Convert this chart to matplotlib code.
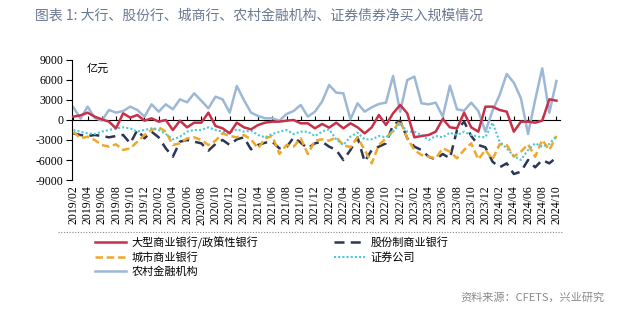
import numpy as np
import matplotlib
matplotlib.use('Agg')
import matplotlib.pyplot as plt
from matplotlib.lines import Line2D

plt.rcParams['font.family'] = ['Noto Sans CJK SC', 'DejaVu Sans']

# monthly, 2019/02 - 2024/10
months = [f'{y}/{m:02d}' for y in range(2019, 2025) for m in range(1, 13)]
months = months[1:months.index('2024/10') + 1]

big_banks = [500, 700, 1100, 500, 100, -250, -1250, 1000, 350, 750, -100, 250, -250, 0,
             -1500, -100, -1100, -400, -400, 1100, -900, -1250, -2000, -400, -1100, -1400,
             -750, -400, -250, -250, -100, 0, -500, -500, -1250, -600, -1150, -400, -1250,
             -500, -1100, -2000, -1100, 750, -750, 1000, 2250, 1000, -2600, -2400, -2250,
             -1750, 150, -1100, -1250, 1100, -1100, -1750, 2000, 2000, 1500, 1250, -1750,
             -250, -250, -400, -100, 3100, 2900]
joint_stock = [-2000, -2250, -2400, -2250, -2400, -2600, -2400, -2250, -3500, -1500, -2750,
               -1750, -2600, -4250, -5500, -3250, -3000, -3250, -3500, -4600, -3600, -3000,
               -3750, -2900, -2600, -4400, -3750, -3400, -3250, -4250, -4100, -2600, -3400,
               -4250, -3500, -3250, -4000, -4500, -6000, -4500, -2600, -6250, -4500, -4000,
               -3500, -750, -100, -2750, -4000, -4500, -5500, -5900, -5100, -5750, -1500,
               -250, -2400, -3750, -4100, -6250, -7100, -6500, -8100, -7750, -6000, -7100,
               -6000, -6500, -5600]
city_banks = [-1750, -2750, -2500, -3000, -3750, -4000, -3650, -4500, -4250, -3250, -2250,
              -1500, -1100, -1750, -3750, -3500, -2750, -2600, -3000, -3750, -3100, -2000,
              -2400, -2600, -2250, -2900, -4250, -2750, -2400, -5100, -3750, -4000, -2750,
              -5100, -3100, -2900, -3100, -2600, -3750, -4100, -2600, -4500, -6500, -3750,
              -2750, -1600, -100, -2750, -4500, -5250, -5500, -5750, -4250, -4750, -5750,
              -4500, -3500, -5900, -4500, -5900, -3650, -3750, -5500, -4750, -3650, -5500,
              -3000, -4500, -2400]
securities = [-1500, -1750, -2000, -2100, -1750, -1500, -1250, -1100, -1250, -1750, -1500,
              -1250, -1500, -2100, -2900, -2500, -1750, -1500, -1500, -1100, -1500, -1750,
              -1900, -1400, -1750, -1600, -2250, -2600, -2100, -1750, -1500, -2100, -1750,
              -1750, -2400, -1750, -1400, -2900, -3750, -2500, -1900, -2900, -2900, -2400,
              -2600, -1750, -500, -1750, -1750, -2250, -3000, -2400, -2600, -1900, -2250,
              -1750, -2250, -2500, -2600, -400, -3250, -4250, -5400, -6000, -4500, -3500,
              -4000, -3600, -2400]
rural = [1900, 200, 2000, 300, -100, 1500, 1100, 1350, 2000, 1500, 500, 2350, 1250, 2350,
         1600, 3100, 2650, 4000, 2900, 1750, 3500, 3100, 1100, 5100, 3000, 1100, 600, 250,
         250, -100, 900, 1350, 2250, 500, 1250, 2750, 5250, 4100, 4000, 100, 2500, 1250,
         1900, 2400, 2600, 6600, 1250, 6000, 6500, 2500, 2350, 2600, 500, 5150, 1600, 1400,
         2600, 1350, -1750, 1400, 3750, 6900, 5600, 3250, -2100, 3000, 7750, 1100, 5850]

labels = ['大型商业银行/政策性银行', '股份制商业银行', '城市商业银行', '证券公司', '农村金融机构']
colors = ['#c8304a', '#2b3656', '#f0a82a', '#4cc8d6', '#9cb8d6']

fig = plt.figure(figsize=(6.4, 3.23), dpi=100)
ax = fig.add_axes([0.1125, 0.4427, 0.7625, 0.3716])
x = np.arange(len(months))

ax.plot(x, rural, color=colors[4], lw=1.8, zorder=2)
ax.plot(x, big_banks, color=colors[0], lw=1.8, zorder=4)
ax.plot(x, joint_stock, color=colors[1], lw=1.8, dashes=(4, 2.5), zorder=3)
ax.plot(x, city_banks, color=colors[2], lw=1.8, dashes=(3, 1.5), zorder=3)
ax.plot(x, securities, color=colors[3], lw=1.5, dashes=(1, 1), zorder=3)

ax.set_ylim(-9000, 9000)
ax.set_xlim(-0.2, 68.5)
ax.set_yticks(range(-9000, 9001, 3000))
ax.set_yticklabels([str(v) for v in range(-9000, 9001, 3000)],
                   family='Liberation Serif', fontsize=8.5)
ax.tick_params(axis='y', direction='out', length=4, width=0.8, pad=2)

ax.set_xticks(x[::2])
ax.set_xticklabels(months[::2], rotation=90, family='Liberation Serif', fontsize=8.5)
ax.tick_params(axis='x', length=0, pad=4)

for s in ['top', 'right', 'bottom']:
    ax.spines[s].set_visible(False)
ax.spines['left'].set_linewidth(0.8)

# zero line with ticks
zero = ax.secondary_xaxis(0.5)
zero.set_xticks(x[::2])
zero.set_xticklabels([])
zero.tick_params(length=3, width=0.8, direction='out')
zero.spines['bottom'].set_linewidth(1.0)

ax.text(0.03, 0.97, '亿元', transform=ax.transAxes, fontsize=8, va='top')

fig.text(0.055, 0.95, '图表 1: 大行、股份行、城商行、农村金融机构、证券债券净买入规模情况',
         fontsize=10, color='#6a7891', va='center')

# dotted separator
fig.add_artist(Line2D([0.09, 0.88], [0.283, 0.283], transform=fig.transFigure,
                      color='#888888', lw=0.8, ls=(0, (1, 1.5))))

handles = [
    Line2D([], [], color=colors[0], lw=1.8),
    Line2D([], [], color=colors[2], lw=1.8, dashes=(3, 1.5)),
    Line2D([], [], color=colors[4], lw=1.8),
    Line2D([], [], color=colors[1], lw=1.8, dashes=(4, 2.5)),
    Line2D([], [], color=colors[3], lw=1.5, dashes=(1, 1)),
]
names = [labels[0], labels[2], labels[4], labels[1], labels[3]]
fig.legend(handles, names, ncol=2, loc='upper left', bbox_to_anchor=(0.14, 0.285),
           frameon=False, fontsize=8, handlelength=2.8, handletextpad=0.5,
           columnspacing=6.8, labelspacing=0.3, borderpad=0)

fig.text(0.945, 0.08, '资料来源：CFETS，兴业研究', fontsize=8, color='#8a8a8a', ha='right',
         va='center')

fig.savefig('out.png', dpi=100)
